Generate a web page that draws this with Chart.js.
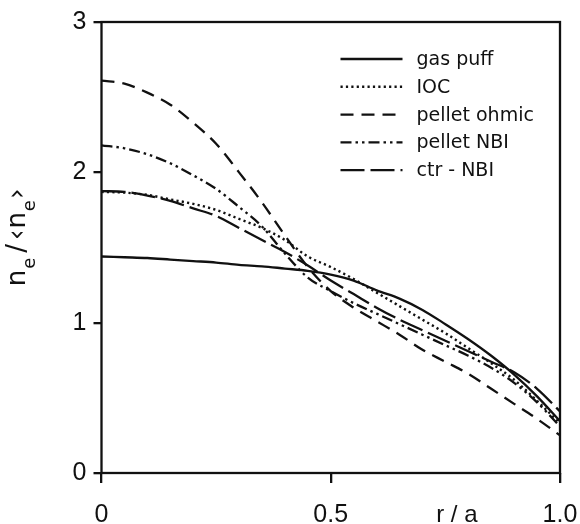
<!DOCTYPE html>
<html>
<head>
<meta charset="utf-8">
<script src="https://cdn.jsdelivr.net/npm/chart.js@4/dist/chart.umd.min.js"></script>
<style>
  html, body { margin: 0; padding: 0; background: #ffffff; }
  #wrap { width: 580px; height: 524px; }
</style>
</head>
<body>
<div id="wrap"><canvas id="c" width="580" height="524"></canvas></div>
<script>
// Normalised density profiles n_e/<n_e> versus r/a
const radius      = [0, 0.05, 0.1, 0.15, 0.2, 0.25, 0.3, 0.35, 0.4, 0.45, 0.5, 0.55, 0.6, 0.65, 0.7, 0.75, 0.8, 0.85, 0.9, 0.95, 1.0];
const gasPuff     = [1.44, 1.435, 1.43, 1.42, 1.41, 1.40, 1.385, 1.375, 1.36, 1.345, 1.32, 1.28, 1.215, 1.16, 1.085, 0.99, 0.89, 0.78, 0.655, 0.51, 0.345];
const ioc         = [1.87, 1.865, 1.85, 1.82, 1.79, 1.75, 1.69, 1.63, 1.55, 1.44, 1.37, 1.29, 1.20, 1.11, 1.02, 0.93, 0.83, 0.73, 0.62, 0.48, 0.33];
const pelletOhmic = [2.61, 2.59, 2.53, 2.45, 2.33, 2.19, 2.00, 1.80, 1.58, 1.37, 1.21, 1.10, 1.01, 0.92, 0.82, 0.74, 0.66, 0.56, 0.46, 0.36, 0.25];
const pelletNbi   = [2.18, 2.16, 2.12, 2.06, 1.98, 1.89, 1.77, 1.64, 1.46, 1.30, 1.21, 1.13, 1.06, 0.99, 0.92, 0.85, 0.78, 0.70, 0.60, 0.47, 0.31];
const ctrNbi      = [1.875, 1.87, 1.845, 1.81, 1.76, 1.71, 1.63, 1.55, 1.47, 1.38, 1.28, 1.19, 1.10, 1.02, 0.95, 0.88, 0.81, 0.74, 0.67, 0.56, 0.41];

const seriesNames = ['gas puff', 'IOC', 'pellet ohmic', 'pellet NBI', 'ctr - NBI'];
const xTicks = [0, 0.5, 1.0];
const xTickLabels = ['0', '0.5', '1.0'];
const yTicks = [0, 1, 2, 3];

const INK = '#111111';
const TICK_FONT = '"Liberation Sans", Arial, sans-serif';
const TEXT_FONT = '"DejaVu Sans", Verdana, sans-serif';

function pts(values) {
  return radius.map((r, i) => ({ x: r, y: values[i] }));
}

const styles = [
  { dash: [] },
  { dash: [2.2, 3.2], width: 2.4 },
  { dash: [13, 8] },
  { dash: [11, 4, 2.5, 4, 2.5, 4] },
  { dash: [24, 6] }
];
const seriesValues = [gasPuff, ioc, pelletOhmic, pelletNbi, ctrNbi];

const datasets = seriesValues.map((vals, i) => ({
  label: seriesNames[i],
  data: pts(vals),
  borderColor: INK,
  borderWidth: styles[i].width || 2.3,
  borderDash: styles[i].dash,
  pointRadius: 0,
  fill: false,
  tension: 0.4,
  cubicInterpolationMode: 'monotone'
}));

// frame, x tick labels, in-plot legend and axis titles
const decorations = {
  id: 'decorations',
  afterDatasetsDraw(chart) {
    const { ctx, chartArea: a, scales } = chart;
    const xs = scales.x;
    ctx.save();
    ctx.strokeStyle = INK;
    ctx.fillStyle = INK;
    ctx.lineWidth = 2.3;
    ctx.setLineDash([]);
    ctx.strokeRect(a.left, a.top, a.right - a.left, a.bottom - a.top);

    // x tick labels and the axis title share one text line
    ctx.font = '25px ' + TICK_FONT;
    ctx.textAlign = 'center';
    ctx.textBaseline = 'alphabetic';
    const base = a.bottom + 49;
    xTicks.forEach((v, i) => ctx.fillText(xTickLabels[i], xs.getPixelForValue(v), base));
    ctx.font = '24px ' + TICK_FONT;
    ctx.fillText('r / a', xs.getPixelForValue(0.775), base);

    // legend inside the plot
    const lx0 = a.left + 239, lx1 = a.left + 301, tx = a.left + 315;
    const ly0 = a.top + 37, dy = 27.8;
    ctx.font = '19px ' + TEXT_FONT;
    ctx.textBaseline = 'middle';
    ctx.textAlign = 'left';
    chart.data.datasets.forEach((ds, i) => {
      const y = ly0 + i * dy;
      ctx.setLineDash(ds.borderDash || []);
      ctx.lineWidth = ds.borderWidth;
      ctx.beginPath();
      ctx.moveTo(lx0, y);
      ctx.lineTo(lx1, y);
      ctx.stroke();
      ctx.setLineDash([]);
      ctx.fillText(ds.label, tx, y + 1);
    });

    // y-axis title, rotated; each piece has its own font, offset and gap after it
    ctx.textBaseline = 'alphabetic';
    const cy = (a.top + a.bottom) / 2 - 10;
    ctx.translate(25, cy);
    ctx.rotate(-Math.PI / 2);
    const big = '26px ' + TEXT_FONT, small = '18px ' + TEXT_FONT;
    const parts = [
      { t: 'n', f: big, dy: 0, gap: 1 },
      { t: 'e', f: small, dy: 10, gap: 5 },
      { t: '/', f: big, dy: 0, gap: 4 },
      { t: '\u2039', f: big, dy: 0, gap: 1 },
      { t: 'n', f: big, dy: 0, gap: 1 },
      { t: 'e', f: small, dy: 10, gap: 1 },
      { t: '\u203A', f: big, dy: 0, gap: 0 }
    ];
    let total = 0;
    parts.forEach(p => { ctx.font = p.f; p.w = ctx.measureText(p.t).width; total += p.w + p.gap; });
    let x = -total / 2;
    parts.forEach(p => {
      ctx.font = p.f;
      ctx.fillText(p.t, x, p.dy);
      x += p.w + p.gap;
    });
    ctx.restore();
  }
};

new Chart(document.getElementById('c'), {
  type: 'line',
  data: { datasets },
  options: {
    responsive: false,
    animation: false,
    devicePixelRatio: 1,
    layout: { padding: { top: 15, right: 20, left: 0, bottom: 0 } },
    plugins: { legend: { display: false }, tooltip: { enabled: false } },
    scales: {
      x: {
        type: 'linear',
        min: 0, max: 1,
        afterBuildTicks(scale) { scale.ticks = xTicks.map(v => ({ value: v })); },
        afterFit(scale) { scale.height = 51; },
        ticks: { display: false },
        grid: { drawOnChartArea: false, drawTicks: true, tickLength: 10, color: INK, lineWidth: 2.3 },
        border: { display: false }
      },
      y: {
        type: 'linear',
        min: 0, max: 3,
        afterBuildTicks(scale) { scale.ticks = yTicks.map(v => ({ value: v })); },
        afterFit(scale) { scale.width = 101.5; },
        ticks: {
          color: INK,
          font: { family: TICK_FONT, size: 25 },
          padding: 7,
          callback(v) { return String(v); }
        },
        grid: { drawOnChartArea: false, drawTicks: true, tickLength: 8, color: INK, lineWidth: 2.3 },
        border: { display: false }
      }
    }
  },
  plugins: [decorations]
});
</script>
</body>
</html>
